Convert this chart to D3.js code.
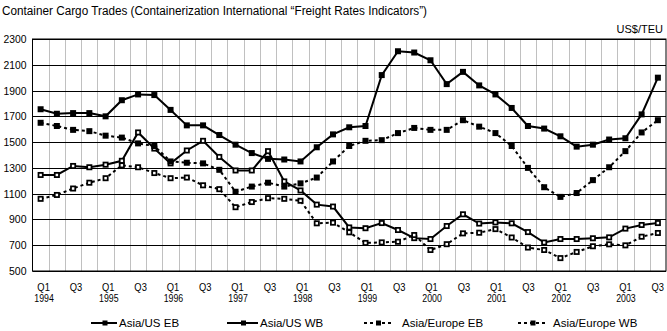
<!DOCTYPE html>
<html><head><meta charset="utf-8">
<script src="https://cdn.jsdelivr.net/npm/d3@7"></script>
<style>
html,body{margin:0;padding:0;background:#fff;}
text{font-family:"Liberation Sans",Arial,sans-serif;fill:#000;}
</style></head>
<body><svg id="c" width="667" height="331"></svg>
<script>
const quarters = ["Q1","Q2","Q3","Q4"];
const years = [1994,1995,1996,1997,1998,1999,2000,2001,2002,2003];
const categories = [];
years.forEach(y => quarters.forEach(q => { if (categories.length < 39) categories.push(q + " " + y); }));

const asiaUsEB = [1755,1720,1725,1725,1700,1825,1870,1865,1750,1630,1630,1555,1480,1415,1370,1365,1350,1460,1560,1615,1625,2020,2205,2195,2135,1950,2045,1940,1870,1765,1625,1605,1545,1465,1480,1520,1530,1715,2000];
const asiaUsWB = [1245,1245,1315,1305,1325,1355,1575,1450,1335,1435,1510,1385,1280,1280,1430,1195,1125,1015,1000,838,832,872,818,755,748,849,940,868,877,870,802,721,748,748,754,761,829,857,872];
const asiaEuropeEB = [1650,1625,1595,1585,1550,1535,1490,1470,1350,1340,1335,1285,1115,1155,1185,1155,1180,1225,1350,1470,1510,1515,1570,1610,1595,1595,1670,1620,1570,1470,1300,1150,1075,1105,1205,1305,1430,1575,1670];
const asiaEuropeWB = [1060,1090,1140,1185,1220,1320,1305,1260,1220,1225,1165,1135,995,1035,1065,1060,1045,870,875,800,718,722,727,779,663,708,792,797,825,760,682,663,600,648,692,707,699,766,795];

const seriesNames = ["Asia/US EB","Asia/US WB","Asia/Europe EB","Asia/Europe WB"];
const yTicks = [500,700,900,1100,1300,1500,1700,1900,2100,2300];
const titleText = "Container Cargo Trades (Containerization International \u201CFreight Rates Indicators\u201D)";
const unitText = "US$/TEU";

const series = [
  {name: seriesNames[0], values: asiaUsEB, dashed: false, hollow: false},
  {name: seriesNames[1], values: asiaUsWB, dashed: false, hollow: true},
  {name: seriesNames[2], values: asiaEuropeEB, dashed: true, hollow: false},
  {name: seriesNames[3], values: asiaEuropeWB, dashed: true, hollow: true}
];

const svg = d3.select("#c");
const L = 32.5, R = 666, T = 39, B = 271;
const x = d3.scaleBand().domain(categories).range([L, R]).paddingInner(0).paddingOuter(0);
const y = d3.scaleLinear().domain([500, 2300]).range([B, T]);
const cx = c => x(c) + x.bandwidth() / 2;

// vertical gray gridlines at category boundaries
svg.append("g").selectAll("line").data(categories.slice(1)).join("line")
  .attr("x1", d => Math.round(x(d)) + 0.5).attr("x2", d => Math.round(x(d)) + 0.5)
  .attr("y1", T).attr("y2", B).attr("stroke", "#c0c0c0").attr("stroke-width", 1);

// horizontal black gridlines
svg.append("g").selectAll("line").data(yTicks).join("line")
  .attr("x1", L).attr("x2", R)
  .attr("y1", d => Math.round(y(d)) + 0.5).attr("y2", d => Math.round(y(d)) + 0.5)
  .attr("stroke", "#000").attr("stroke-width", 1);

// plot border
svg.append("rect").attr("x", L).attr("y", T).attr("width", R - L).attr("height", B - T)
  .attr("fill", "none").attr("stroke", "#000").attr("stroke-width", 1);

// y axis labels
const yAxis = d3.axisLeft(y).tickValues(yTicks).tickFormat(d3.format("d")).tickSize(0).tickPadding(6);
const gy = svg.append("g").attr("transform", `translate(${L},0)`).call(yAxis);
gy.select(".domain").remove();
gy.selectAll("text").style("font-size", "11px").style("font-family", '"Liberation Sans",Arial,sans-serif')
  .attr("textLength", 23).attr("lengthAdjust", "spacingAndGlyphs");
gy.selectAll("text").filter(d => d < 1000).attr("textLength", 17.5);

// x axis labels
const xLab = svg.append("g");
categories.forEach((c, i) => {
  if (i % 2 !== 0) return;
  const [q, yr] = c.split(" ");
  const off = 3 - i * 0.08;
  xLab.append("text").attr("x", cx(c) + off).attr("y", 290.5).attr("text-anchor", "middle")
    .style("font-size", "11px").attr("textLength", 12.5).attr("lengthAdjust", "spacingAndGlyphs").text(q);
  if (q === "Q1") {
    xLab.append("text").attr("x", cx(c) + off + 0.5).attr("y", 302).attr("text-anchor", "middle")
      .style("font-size", "11px").attr("textLength", 19.5).attr("lengthAdjust", "spacingAndGlyphs").text(yr);
  }
});

// lines
const line = d3.line().x((d, i) => cx(categories[i])).y(d => y(d));
series.forEach(s => {
  svg.append("path").datum(s.values).attr("d", line)
    .attr("fill", "none").attr("stroke", "#000").attr("stroke-width", 2)
    .attr("stroke-dasharray", s.dashed ? "3,3" : null);
});
// markers
series.forEach(s => {
  const g = svg.append("g");
  g.selectAll("rect").data(s.values).join("rect")
    .attr("x", (d, i) => cx(categories[i]) - 3).attr("y", d => y(d) - 3)
    .attr("width", 6).attr("height", 6).attr("fill", "#000");
  if (s.hollow) {
    g.selectAll("rect.in").data(s.values).join("rect").attr("class", "in")
      .attr("x", (d, i) => cx(categories[i]) - 1.25).attr("y", d => y(d) - 1.25)
      .attr("width", 2.5).attr("height", 2.5).attr("fill", "#fff");
  }
});

// title and unit
svg.append("text").attr("x", 2).attr("y", 15).style("font-size", "12px")
  .attr("textLength", 425).attr("lengthAdjust", "spacingAndGlyphs").text(titleText);
svg.append("text").attr("x", 663).attr("y", 33).attr("text-anchor", "end").style("font-size", "11px").text(unitText);

// legend
const legendPos = [
  {x1: 91, x2: 117, tx: 119},
  {x1: 227, x2: 258, tx: 260},
  {x1: 364, x2: 393, tx: 402},
  {x1: 518, x2: 548, tx: 553}
];
const ly = 323;
series.forEach((s, i) => {
  const p = legendPos[i];
  svg.append("line").attr("x1", p.x1).attr("x2", p.x2).attr("y1", ly).attr("y2", ly)
    .attr("stroke", "#000").attr("stroke-width", 2).attr("stroke-dasharray", s.dashed ? "3,3" : null);
  const mx = (p.x1 + p.x2) / 2 + (s.dashed ? 0 : 1);
  svg.append("rect").attr("x", mx - 2.5).attr("y", ly - 2.5).attr("width", 5).attr("height", 5).attr("fill", "#000");
  svg.append("text").attr("x", p.tx).attr("y", ly).attr("dominant-baseline", "central")
    .style("font-size", "11.5px").text(s.name);
});
</script></body></html>
